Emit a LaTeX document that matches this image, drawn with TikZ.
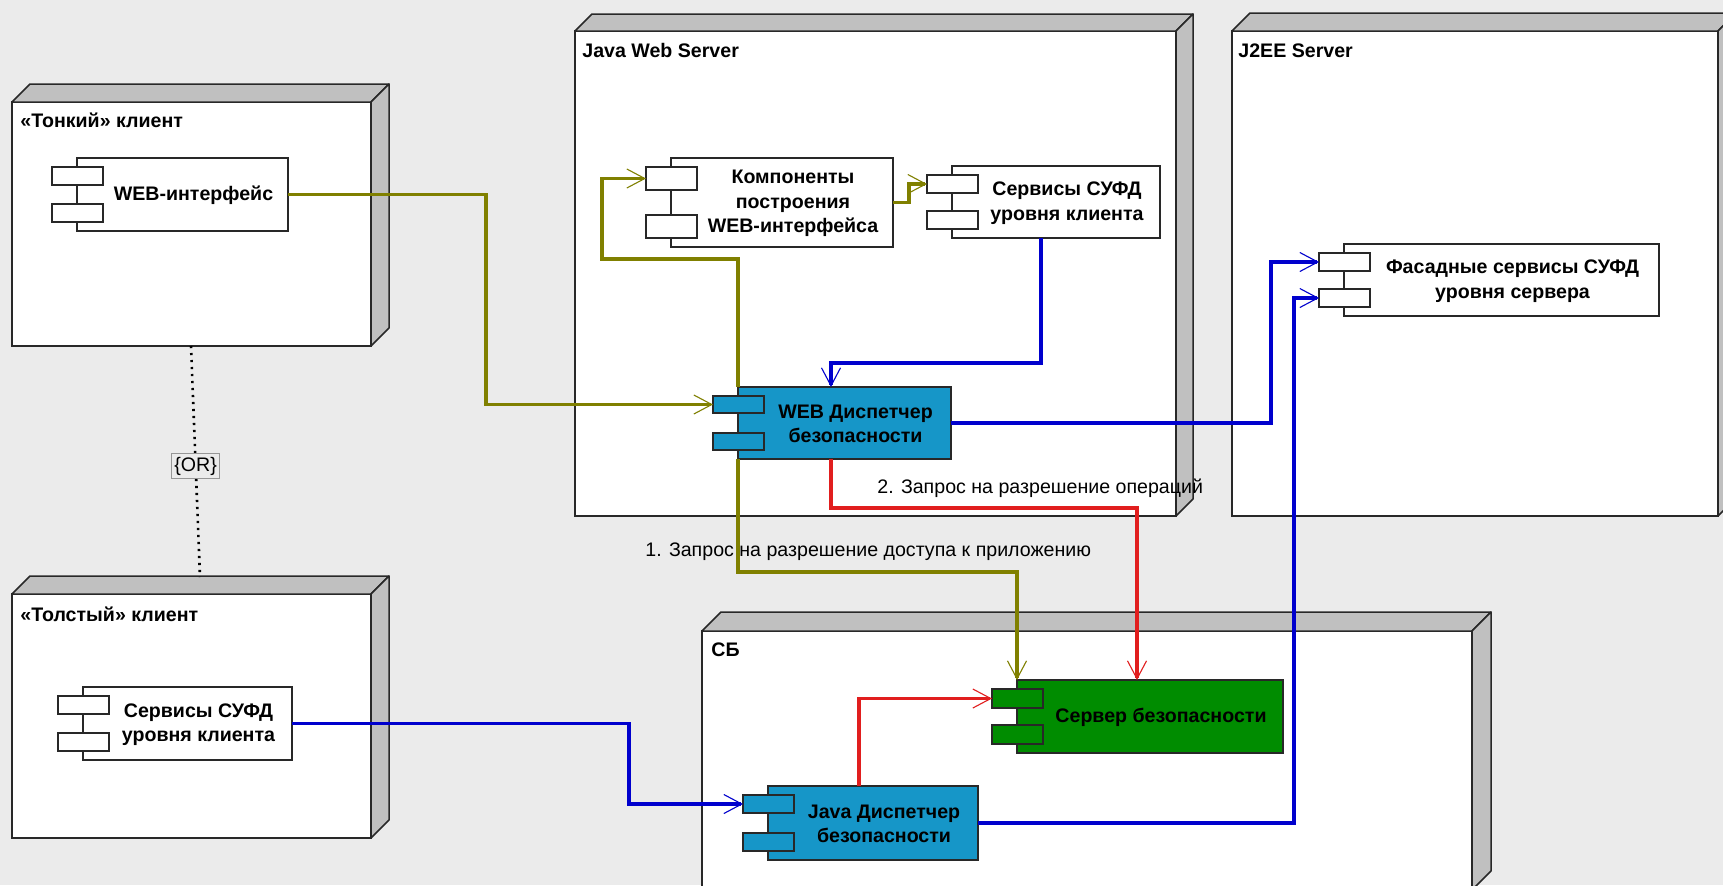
\documentclass[tikz,border=0pt]{standalone}
\usepackage{fontspec}
\setmainfont{Liberation Sans}
\usetikzlibrary{arrows.meta,calc}
\definecolor{bg}{RGB}{235,235,235}
\definecolor{side}{RGB}{192,192,192}
\definecolor{edge}{RGB}{40,40,40}
\definecolor{oliv}{RGB}{128,128,0}
\definecolor{blu}{RGB}{0,0,205}
\definecolor{rd}{RGB}{225,30,30}
\definecolor{cyanfill}{RGB}{22,150,200}
\definecolor{grn}{RGB}{0,140,0}
\definecolor{orbox}{RGB}{150,150,150}
% deployment node: name, x1, y1, x2, y2, depth
\newcommand\dnode[6]{%
  \node[frontface, minimum width={(#4-#2)*0.5pt}, minimum height={(#5-#3)*0.5pt}] (#1) at ({(#2+#4)/2},{(#3+#5)/2}) {};
  \filldraw[sideface] (#1.north west) -- ++(#6,-#6) -- ($(#1.north east)+(#6,-#6)$) -- (#1.north east) -- cycle;
  \filldraw[sideface] (#1.north east) -- ++(#6,-#6) -- ($(#1.south east)+(#6,-#6)$) -- (#1.south east) -- cycle;
}
% component: name, x1, y1, x2, y2, fill, port height, text
\newcommand\compo[8]{%
  \node[compbody, fill=#6, minimum width={(#4-#2)*0.5pt}, minimum height={(#5-#3)*0.5pt}] (#1) at ({(#2+#4)/2},{(#3+#5)/2}) {};
  \node[compport, fill=#6, minimum height={#7*0.5pt}, anchor=north west] (#1-a) at ($(#1.north west)+(-25,9)$) {};
  \node[compport, fill=#6, minimum height={#7*0.5pt}, anchor=south west] (#1-b) at ($(#1.south west)+(-25,-9)$) {};
  \node[comptext] (#1-t) at ($(#1.center)+(11,1)$) {#8};
}
\begin{document}
\begin{tikzpicture}[x=0.5pt,y=-0.5pt,
  frontface/.style={draw=edge, fill=white, line width=0.75pt, inner sep=0pt, outer sep=0pt},
  sideface/.style={draw=edge, fill=side, line width=0.75pt, line join=round},
  compbody/.style={draw=edge, line width=0.75pt, inner sep=0pt, outer sep=0pt},
  compport/.style={draw=edge, line width=0.75pt, inner sep=0pt, outer sep=0pt, minimum width=25.5pt},
  comptext/.style={font=\bfseries\fontsize{9.8pt}{12.3pt}\selectfont, align=center, inner sep=0pt},
  titletext/.style={font=\bfseries\fontsize{9.8pt}{12pt}\selectfont, anchor=base west, inner sep=0pt},
  msgtext/.style={font=\fontsize{9.8pt}{12pt}\selectfont, anchor=base west, inner sep=0pt},
  conn/.style={line width=1.6pt, line join=miter, -{Straight Barb[length=9pt,width=9.5pt,line width=0.55pt]}},
  olconn/.style={conn, draw=oliv},
  blconn/.style={conn, draw=blu},
  rdconn/.style={conn, draw=rd},
  ordots/.style={line width=1.3pt, dash pattern=on 1.1pt off 2.4pt, draw=black},
  orlabel/.style={draw=orbox, fill=bg, line width=0.5pt, inner xsep=1.5pt, inner ysep=1.5pt, font=\fontsize{9.8pt}{12pt}\selectfont}
]
\useasboundingbox (0,0) rectangle (1723,885);
\clip (0,0) rectangle (1723,885);
\fill[bg] (0,0) rectangle (1723,885);

% deployment nodes
\dnode{thin}{12}{102}{371}{346}{18}
\dnode{thick}{12}{594}{371}{838}{18}
\dnode{jws}{575}{31}{1176}{516}{17}
\dnode{jee}{1232}{31}{1718}{516}{18}
\dnode{sbn}{702}{631}{1472}{890}{19}

\node[titletext] (thinT) at (20,127) {«Тонкий» клиент};
\node[titletext] (thickT) at (20,621) {«Толстый» клиент};
\node[titletext] (jwsT) at (582,57) {Java Web Server};
\node[titletext] (jeeT) at (1238,57) {J2EE Server};
\node[titletext] (sbT) at (711,656) {СБ};

% components
\compo{web}{77}{158}{288}{231}{white}{18}{WEB-интерфейс}
\compo{komp}{671}{158}{893}{247}{white}{23}{Компоненты\\построения\\WEB-интерфейса}
\compo{servtop}{952}{166}{1160}{238}{white}{18}{Сервисы СУФД\\уровня клиента}
\compo{wdisp}{738}{387}{951}{459}{cyanfill}{17}{WEB Диспетчер\\безопасности}
\compo{fasad}{1344}{244}{1659}{316}{white}{18}{Фасадные сервисы СУФД\\уровня сервера}
\compo{srv}{1017}{680}{1283}{753}{grn}{19}{Сервер безопасности}
\compo{jdisp}{768}{786}{978}{860}{cyanfill}{18}{Java Диспетчер\\безопасности}
\compo{thserv}{83}{687}{292}{760}{white}{18}{Сервисы СУФД\\уровня клиента}

% OR constraint
\coordinate (orA) at ($(thin.south west)+(179,0)$);
\coordinate (orB) at ($(thick.north west)+(188,-17)$);
\draw[ordots] (orA) -- (orB);
\node[orlabel] (orL) at ($(orA)!0.52!(orB)$) {\{OR\}};

% connectors
\draw[olconn] (web.east) -- ++(198,0) |- (wdisp-a.west);
\draw[olconn] (wdisp.north west) -- ++(0,-128) -- ++(-136,0) |- (komp-a.west);
\draw[olconn] (komp.east) -- ++(16,0) |- (servtop-a.west);
\draw[olconn] (wdisp.south west) -- ++(0,113) -| (srv.north west);
\draw[blconn] ($(servtop.south west)+(89,0)$) -- ++(0,125) -| ($(wdisp.north west)+(93,0)$);
\draw[blconn] (wdisp.east) -- ++(320,0) |- (fasad-a.west);
\draw[blconn] (jdisp.east) -- ++(316,0) |- (fasad-b.west);
\draw[blconn] (thserv.east) -- ++(337,0) |- (jdisp-a.west);
\draw[rdconn] ($(wdisp.south west)+(93,0)$) -- ++(0,49) -| ($(srv.north west)+(120,0)$);
\draw[rdconn] ($(jdisp.north west)+(91,0)$) |- (srv-a.west);

% messages
\node[msgtext] (msg1) at (645,556) {1. Запрос на разрешение доступа к приложению};
\node[msgtext] (msg2) at (877,493) {2. Запрос на разрешение операций};
\end{tikzpicture}
\end{document}
